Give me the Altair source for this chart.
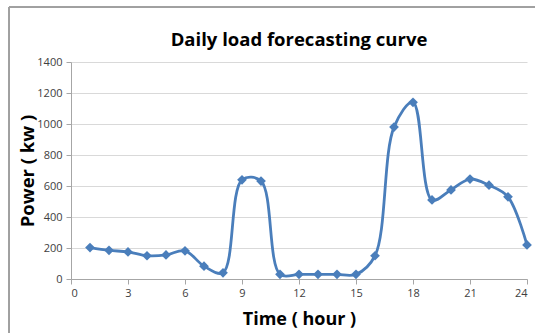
import altair as alt
import pandas as pd

hours = list(range(1, 25))
power = [203, 185, 175, 150, 155, 182, 83, 40, 640, 632, 30, 30,
         30, 30, 30, 150, 980, 1140, 510, 575, 645, 605, 530, 220]

df = pd.DataFrame({"hour": hours, "power": power})

blue = "#4A7EBB"
font = "Open Sans"

x = alt.X("hour:Q", scale=alt.Scale(domain=[0, 24], nice=False),
          axis=alt.Axis(values=list(range(0, 25, 3)), title="Time ( hour )",
                        grid=False, titleFontSize=18, titleFont=font, titleFontWeight="bold",
                        titleColor="#000000", titlePadding=12,
                        labelFontSize=11, labelFont=font, labelColor="#404040",
                        domainColor="#A6A6A6", tickColor="#A6A6A6", tickSize=5,
                        labelPadding=3, labelOverlap=False))
y = alt.Y("power:Q", scale=alt.Scale(domain=[0, 1400], nice=False),
          axis=alt.Axis(values=list(range(0, 1401, 200)), title="Power ( kw )", format="d",
                        grid=True, gridColor="#D9D9D9", titleFontSize=18.5, titleFont=font,
                        titleFontWeight="bold", titleColor="#000000", titleX=-34,
                        labelFontSize=11, labelFont=font, labelColor="#404040",
                        domainColor="#A6A6A6", tickColor="#A6A6A6", tickSize=5,
                        labelPadding=4, labelOverlap=False))

line = alt.Chart(df).mark_line(interpolate="catmull-rom", color=blue, strokeWidth=2.8).encode(x=x, y=y)
pts = alt.Chart(df).mark_point(shape="diamond", filled=True, color=blue, size=95, opacity=1).encode(x=x, y=y)

frame = alt.Chart(df).mark_rect(fill=None, stroke="#A0A0A0", strokeWidth=1, clip=False).encode(
    x=alt.value(-62), x2=alt.value(470), y=alt.value(-55), y2=alt.value(300))

chart = alt.layer(frame, line, pts).properties(
    width=456, height=217,
    autosize=alt.AutoSizeParams(type="none"),
    padding={"left": 71, "top": 62, "right": 8, "bottom": 54},
    title=alt.TitleParams("Daily load forecasting curve", fontSize=18.5, font=font,
                          fontWeight="bold", color="#000000", offset=0, dy=43, anchor="middle"),
    background="white",
).configure_view(stroke=None)

chart.save("out.html", embed_options={"renderer": "svg", "actions": False})
